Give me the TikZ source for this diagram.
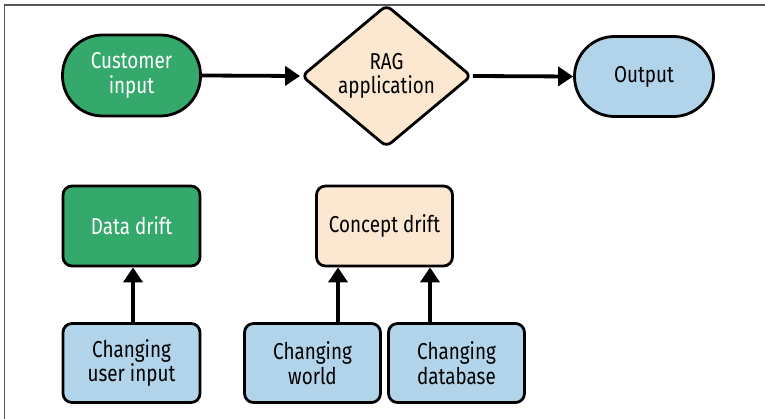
\documentclass[tikz,border=0pt]{standalone}
\usepackage{fontspec}
\setmainfont[FakeStretch=0.82]{Fira Sans}
\usetikzlibrary{shapes.geometric,arrows.meta,calc}
\definecolor{boxgreen}{HTML}{35A86B}
\definecolor{boxpeach}{HTML}{FCE7D1}
\definecolor{boxblue}{HTML}{B1D4EA}
\definecolor{framegray}{HTML}{555555}
\begin{document}
\begin{tikzpicture}[x=1pt,y=-1pt,
  every node/.style={font=\fontsize{23}{24.5}\selectfont, align=center, inner sep=0pt},
  base/.style={draw=black, line width=2.8pt},
  pill/.style={base, rounded corners=40pt, minimum width=138pt, minimum height=81pt},
  rbox/.style={base, rounded corners=9pt, minimum width=137pt, minimum height=80pt},
  arr/.style={line width=3.8pt, -{Triangle[length=15pt,width=19pt]}}
]
\useasboundingbox (0,0) rectangle (765,419);
\draw[framegray, line width=1.4pt] (4.5,425) -- (4.5,5) -- (770,5);

\node[pill, fill=boxgreen, text=white] (cust) at (131.5,75.5) {Customer\\input};
\node[base, diamond, fill=boxpeach, rounded corners=6pt, minimum width=170pt, minimum height=111pt] (rag) at (386.5,76) {RAG\\application};
\node[pill, fill=boxblue, minimum width=139pt, minimum height=80pt] (out) at (644,76.5) {Output};

\node[rbox, fill=boxgreen, text=white] (data) at (131.5,226) {Data drift};
\node[rbox, fill=boxpeach, minimum width=136pt] (concept) at (384.5,226) {Concept drift};

\node[rbox, fill=boxblue, minimum height=79pt] (cuser) at (131.5,363) {Changing\\user input};
\node[rbox, fill=boxblue, minimum width=136pt, minimum height=79pt] (cworld) at (312.5,363) {Changing\\world};
\node[rbox, fill=boxblue, minimum width=136pt, minimum height=79pt] (cdb) at (456.5,363) {Changing\\database};

\draw[arr] (cust.east) -- (rag.west);
\draw[arr] (rag.east) -- (out.west);
\draw[arr] ([xshift=1.5pt]cuser.north) -- ([xshift=1.5pt]data.south);
\draw[arr] ([xshift=25.5pt]cworld.north) -- ([xshift=25.5pt]cworld.north |- concept.south);
\draw[arr] ([xshift=-26.5pt]cdb.north) -- ([xshift=-26.5pt]cdb.north |- concept.south);
\end{tikzpicture}
\end{document}
